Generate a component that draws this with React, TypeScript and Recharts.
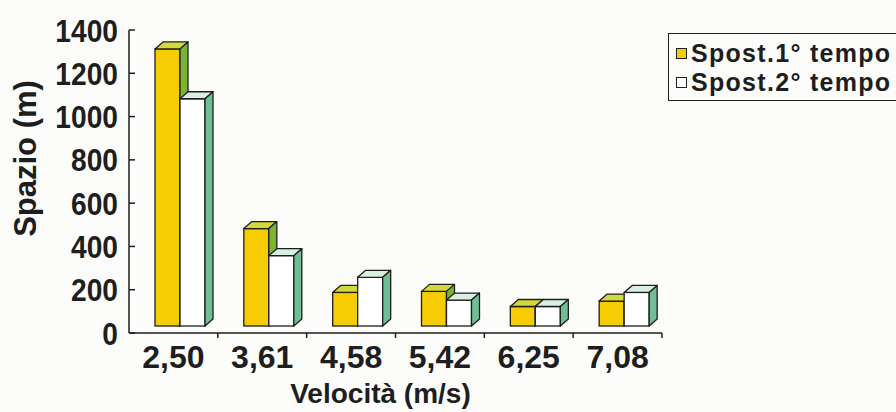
import React from "react";
import { BarChart, Bar, XAxis, YAxis, Label } from "recharts";

const categories = ["2,50", "3,61", "4,58", "5,42", "6,25", "7,08"];
const firstHalf = [1280, 450, 155, 160, 90, 115];
const secondHalf = [1050, 325, 225, 120, 90, 155];
const yTicks = [0, 200, 400, 600, 800, 1000, 1200, 1400];
const seriesNames = ["Spost.1° tempo", "Spost.2° tempo"];

const data = categories.map((c, i) => ({ v: c, s1: firstHalf[i], s2: secondHalf[i] }));

const FONT = "'Liberation Sans', Arial, Helvetica, sans-serif";
const INK = "#1e1e1e";

const makeBar3D = (front: string, top: string, side: string) => (props: any) => {
  const { x, y, width, height } = props;
  if (x == null || y == null) return null;
  const dx = 7, dy = -7; // floor offset
  const d = 8, e = 7; // depth
  const x0 = x + dx, y0 = y + dy, w = width, h = height;
  const sw = 1.3;
  return (
    <g>
      <rect x={x0} y={y0} width={w} height={h} fill={front} stroke={INK} strokeWidth={sw} />
      <polygon
        points={`${x0},${y0} ${x0 + d},${y0 - e} ${x0 + w + d},${y0 - e} ${x0 + w},${y0}`}
        fill={top}
        stroke={INK}
        strokeWidth={sw}
        strokeLinejoin="round"
      />
      <polygon
        points={`${x0 + w},${y0} ${x0 + w + d},${y0 - e} ${x0 + w + d},${y0 + h - e} ${x0 + w},${y0 + h}`}
        fill={side}
        stroke={INK}
        strokeWidth={sw}
        strokeLinejoin="round"
      />
    </g>
  );
};

const YellowBar = makeBar3D("#F5CD02", "#D3D93C", "#7BB42F");
const WhiteBar = makeBar3D("#FFFFFF", "#D9EFE2", "#6FBE95");

const XTick = (props: any) => {
  const { x, y, payload } = props;
  const off = payload && payload.offset ? payload.offset : 44.4;
  const axisY = y - 8;
  return (
    <g>
      <line x1={x + off} y1={axisY} x2={x + off} y2={axisY + 5} stroke={INK} strokeWidth={1.5} />
      <text x={x} y={y + 27} textAnchor="middle" fontFamily={FONT} fontWeight="bold" fontSize={32} fill={INK}>
        {payload.value}
      </text>
    </g>
  );
};

const YTick = (props: any) => {
  const { x, y, payload } = props;
  const axisX = x + 8;
  return (
    <g>
      <line x1={axisX} y1={y} x2={axisX + 6} y2={y} stroke={INK} strokeWidth={1.5} />
      <text
        x={0}
        y={0}
        transform={`translate(${x - 3},${y}) scale(0.88,1)`}
        dy="0.36em"
        textAnchor="end"
        fontFamily={FONT}
        fontWeight="bold"
        fontSize={32}
        fill={INK}
      >
        {payload.value}
      </text>
    </g>
  );
};

export default function App() {
  const swatches = ["#F5CD02", "#FFFFFF"];
  return (
    <div
      style={{
        position: "absolute",
        left: 0,
        top: 0,
        width: 896,
        height: 412,
        overflow: "hidden",
        background: "#fcfcfb",
      }}
    >
      <BarChart
        width={896}
        height={412}
        data={data}
        margin={{ top: 30, right: 234, bottom: 0, left: 0 }}
        barGap={0}
        barSize={25}
      >
        <XAxis
          dataKey="v"
          height={79}
          interval={0}
          axisLine={{ stroke: INK, strokeWidth: 1.5 }}
          tickLine={false}
          tickSize={0}
          tickMargin={8}
          tick={<XTick />}
        >
          <Label
            content={(p: any) => {
              const vb = p.viewBox || { x: 129, y: 333, width: 533, height: 79 };
              return (
                <text
                  x={vb.x + vb.width / 2 - 15}
                  y={vb.y + 70}
                  textAnchor="middle"
                  fontFamily={FONT}
                  fontWeight="bold"
                  fontSize={28}
                  fill={INK}
                >
                  Velocità (m/s)
                </text>
              );
            }}
          />
        </XAxis>
        <YAxis
          width={129}
          domain={[0, 1400]}
          ticks={yTicks}
          interval={0}
          axisLine={{ stroke: INK, strokeWidth: 1.5 }}
          tickLine={false}
          tickSize={0}
          tickMargin={8}
          tick={<YTick />}
        >
          <Label
            content={(p: any) => {
              const vb = p.viewBox || { x: 0, y: 30, width: 129, height: 303 };
              const cx = vb.x + 25;
              const cy = vb.y + vb.height / 2 - 23;
              return (
                <text
                  x={cx}
                  y={cy}
                  transform={`rotate(-90, ${cx}, ${cy})`}
                  textAnchor="middle"
                  dominantBaseline="central"
                  fontFamily={FONT}
                  fontWeight="bold"
                  fontSize={31}
                  fill={INK}
                >
                  Spazio (m)
                </text>
              );
            }}
          />
        </YAxis>
        <Bar dataKey="s1" name={seriesNames[0]} shape={<YellowBar />} isAnimationActive={false} />
        <Bar dataKey="s2" name={seriesNames[1]} shape={<WhiteBar />} isAnimationActive={false} />
      </BarChart>
      <div
        style={{
          position: "absolute",
          left: 668,
          top: 33,
          width: 250,
          height: 66,
          border: `1.5px solid ${INK}`,
          fontFamily: FONT,
          fontWeight: "bold",
          fontSize: 25,
          color: INK,
          letterSpacing: 1.3,
        }}
      >
        {seriesNames.map((n, i) => (
          <div
            key={n}
            style={{
              position: "absolute",
              left: 7,
              top: 5 + i * 29,
              height: 28,
              display: "flex",
              alignItems: "center",
              whiteSpace: "nowrap",
            }}
          >
            <span
              style={{
                display: "inline-block",
                width: 9,
                height: 9,
                background: swatches[i],
                border: `1.5px solid ${INK}`,
                marginRight: 4,
              }}
            />
            <span>{n}</span>
          </div>
        ))}
      </div>
    </div>
  );
}
